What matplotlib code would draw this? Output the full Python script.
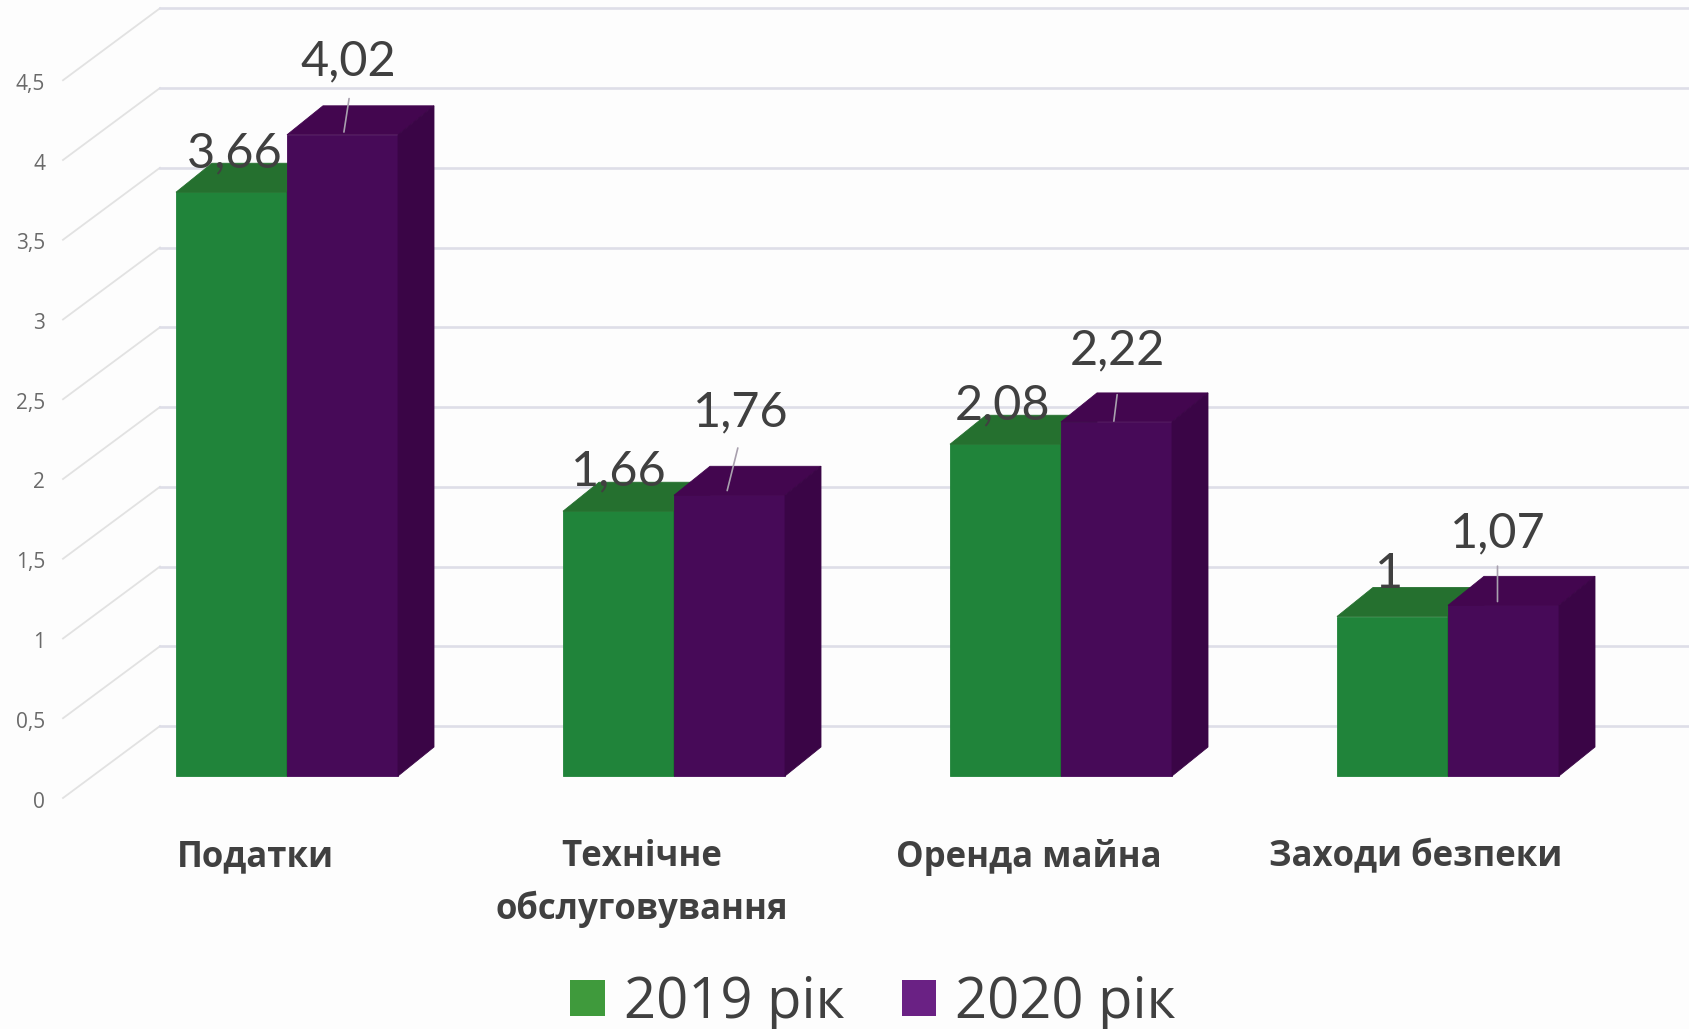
import numpy as np
import matplotlib
matplotlib.use("Agg")
import matplotlib.pyplot as plt
from matplotlib.patches import Polygon, Patch

categories = ["Податки", "Технічне\nобслуговування", "Оренда майна", "Заходи безпеки"]
values_2019 = [3.66, 1.66, 2.08, 1]
values_2020 = [4.02, 1.76, 2.22, 1.07]
value_ticks = [0, 0.5, 1, 1.5, 2, 2.5, 3, 3.5, 4, 4.5]
tick_labels = ["0", "0,5", "1", "1,5", "2", "2,5", "3", "3,5", "4", "4,5"]
legend_labels = ["2019 рік", "2020 рік"]

# label placement, in pixels from the middle of the bar top
offsets_2019 = [(3, 39), (0, 40), (-3, 39), (-3, 42)]
offsets_2020 = [(6, 73), (11, 83), (1, 72), (-6, 72)]
# leader lines, same idea (start, end)
leaders_2020 = [((7, 39), (1, 0)), ((9, 50), (-3, 2)), ((1, 30), (-3, -2)), ((-6, 42), (-6, 1))]

W, H = 1690, 1029
PX_X = 387.0      # pixels per category
PX_Y = 159.5      # pixels per value unit
BAR_W = 111.0 / PX_X
DX = 36 / PX_X
DY = 29 / PX_Y
GRID = "#dedee8"
TEXT = "#404040"

plt.rcParams["font.family"] = ["Lato", "Open Sans", "DejaVu Sans"]

fig = plt.figure(figsize=(W / 100, H / 100), dpi=100, facecolor="#fdfdfd")
ax = fig.add_axes([0, 0, 1, 1])
ax.set_xlim(-287 / PX_X, (W - 287) / PX_X)
ax.set_ylim(-(H - 776) / PX_Y, 776 / PX_Y)
ax.axis("off")

# walls
wall_x0 = (63 - 287) / PX_X
wall_x1 = (160 - 287) / PX_X
wall_y0 = -22 / PX_Y
wall_y1 = 50 / PX_Y
for v, lab in zip(value_ticks, tick_labels):
    ax.plot([wall_x0, wall_x1], [v + wall_y0, v + wall_y1], color="#e2e2e2", lw=1.3, zorder=1)
    ax.plot([wall_x1, ax.get_xlim()[1]], [v + wall_y1, v + wall_y1], color=GRID, lw=1.9, zorder=1)
    ax.annotate(lab, (wall_x0, v + wall_y0), xytext=(-18, -4), textcoords="offset pixels",
                ha="right", va="center", fontsize=15, color="#6a6a6a", family=["Open Sans"])


def draw_bars(xs, vals, front, top, side, z):
    ax.bar(xs, vals, width=BAR_W, color=front, edgecolor=front, zorder=z, linewidth=0.6)
    for x, v in zip(xs, vals):
        l, r = x - BAR_W / 2, x + BAR_W / 2
        ax.add_patch(Polygon([(l, v), (r, v), (r + DX, v + DY), (l + DX, v + DY)],
                             closed=True, fc=top, ec=top, lw=0.6, zorder=z))
        ax.add_patch(Polygon([(r, 0), (r + DX, DY), (r + DX, v + DY), (r, v)],
                             closed=True, fc=side, ec=side, lw=0.6, zorder=z))


pos = np.arange(len(categories))
x_2019 = pos - BAR_W / 2
x_2020 = pos + BAR_W / 2
draw_bars(x_2019, values_2019, "#20843a", "#25702f", "#1b5f2b", 3)
draw_bars(x_2020, values_2020, "#470a58", "#43064f", "#3a0546", 4)

for x, v, off in zip(x_2019, values_2019, offsets_2019):
    ax.annotate(str(v).replace(".", ","), (x, v), xytext=off, textcoords="offset pixels",
                ha="center", va="center", fontsize=35, color=TEXT, zorder=6)
for x, v, off in zip(x_2020, values_2020, offsets_2020):
    ax.annotate(str(v).replace(".", ","), (x, v), xytext=off, textcoords="offset pixels",
                ha="center", va="center", fontsize=35, color=TEXT, zorder=6)
for x, v, (a, b) in zip(x_2020, values_2020, leaders_2020):
    ax.annotate("", (x + b[0] / PX_X, v + b[1] / PX_Y), xytext=(x + a[0] / PX_X, v + a[1] / PX_Y),
                arrowprops=dict(arrowstyle="-", color="#a8a0ae", lw=1.2), zorder=7)

# category labels sit a bit left of the group middle
for p, name in zip(pos, categories):
    ax.annotate(name, (p, 0), xytext=(-32, -63), textcoords="offset pixels",
                ha="center", va="top", fontsize=25, fontweight="bold",
                color=TEXT, family=["Open Sans"], linespacing=1.55, multialignment="center")

handles = [Patch(fc="#3f9a3c", ec="none"), Patch(fc="#6a2184", ec="none")]
ax.legend(handles, legend_labels, loc="center", bbox_to_anchor=(873 / W, 1 - 1003 / H),
          ncol=2, frameon=False, handlelength=0.62, handleheight=0.62,
          handletextpad=0.33, columnspacing=1.02, labelcolor=TEXT,
          prop={"family": ["Open Sans"], "size": 40.4})

fig.savefig("out.png", dpi=100, facecolor=fig.get_facecolor())
